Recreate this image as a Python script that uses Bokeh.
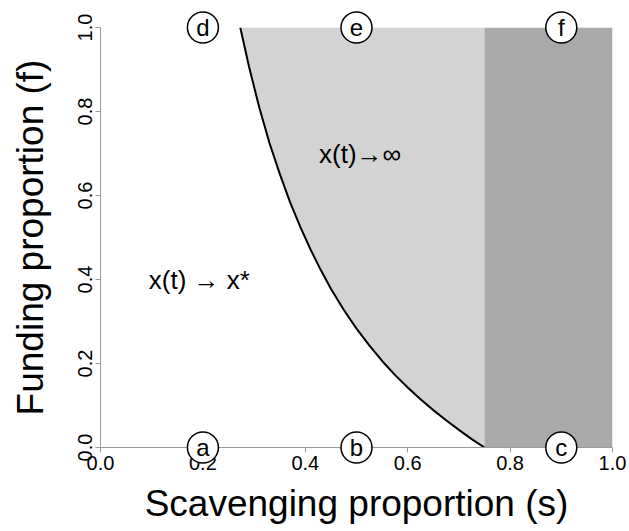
from bokeh.plotting import figure
from bokeh.models import Range1d, FixedTicker, NumeralTickFormatter
from bokeh.core.properties import value
from bokeh.embed import file_html
from bokeh.resources import INLINE

# Boundary curve: scavenging s vs funding f
curve_s = [0.273, 0.29, 0.31, 0.33, 0.35, 0.37, 0.39, 0.41, 0.43, 0.45, 0.475,
           0.50, 0.525, 0.55, 0.575, 0.60, 0.625, 0.65, 0.675, 0.70, 0.725, 0.75]
curve_f = [1.0, 0.907, 0.810, 0.725, 0.652, 0.585, 0.526, 0.472, 0.423, 0.378, 0.328,
           0.283, 0.243, 0.206, 0.173, 0.143, 0.115, 0.089, 0.065, 0.042, 0.020, 0.0]
boundary_s = 0.75  # start of dark region

ticks = [0.0, 0.2, 0.4, 0.6, 0.8, 1.0]

# circled panel markers
marker_letters = ["a", "b", "c", "d", "e", "f"]
marker_s = [0.2, 0.5, 0.9, 0.2, 0.5, 0.9]
marker_f = [0.0, 0.0, 0.0, 1.0, 1.0, 1.0]

# region annotations
region_texts = ["x(t) \u2192 x*", "x(t)\u2192\u221e"]
region_s = [0.193, 0.507]
region_f = [0.4, 0.7]

FONT = "Liberation Sans"

p = figure(width=629, height=531, output_backend="svg", toolbar_location=None,
           x_range=Range1d(0, 1), y_range=Range1d(0, 1),
           min_border_left=100, min_border_right=17, min_border_top=27, min_border_bottom=84)
p.outline_line_color = None
p.grid.visible = False
p.background_fill_color = "white"
p.border_fill_color = "white"

# light region between curve and boundary
p.patch(curve_s + [boundary_s], curve_f + [1.0], fill_color="#d3d3d3", line_color=None)
# dark region
p.quad(left=[boundary_s], right=[1.0], bottom=[0.0], top=[1.0], fill_color="#a9a9a9", line_color=None)
# curve
p.line(curve_s, curve_f, line_color="black", line_width=2)

p.text(x=region_s, y=region_f, text=region_texts, text_font=value(FONT),
       text_font_size="26px", text_align="center", text_baseline="middle", text_color="black")

for ax in (p.xaxis[0], p.yaxis[0]):
    ax.ticker = FixedTicker(ticks=ticks)
    ax.formatter = NumeralTickFormatter(format="0.0")
    ax.bounds = (0, 1)
    ax.axis_line_color = "#9a9a9a"
    ax.major_tick_line_color = "#9a9a9a"
    ax.minor_tick_line_color = None
    ax.major_tick_in = 0
    ax.major_tick_out = 5
    ax.major_label_text_font = FONT
    ax.major_label_text_font_size = "20px"
    ax.major_label_text_color = "black"
    ax.axis_label_text_font = FONT
    ax.axis_label_text_font_size = "37px"
    ax.axis_label_text_font_style = "normal"
    ax.axis_label_text_color = "black"

p.xaxis[0].axis_label = "Scavenging proportion (s)"
p.xaxis[0].major_label_standoff = 3
p.xaxis[0].axis_label_standoff = 10
p.yaxis[0].axis_label = "Funding proportion (f)"
p.yaxis[0].major_label_orientation = "parallel"
p.yaxis[0].major_label_standoff = 4
p.yaxis[0].axis_label_standoff = 24

# circled letters (overlay level so they are not clipped to the frame)
p.scatter(marker_s, marker_f, marker="circle", size=31, fill_color="white",
          line_color="black", line_width=1.5, level="overlay")
p.text(x=marker_s, y=marker_f, text=marker_letters, text_font=value(FONT),
       text_font_size="24px", text_align="center", text_baseline="middle",
       text_color="black", level="overlay")

open("out.html", "w").write(file_html(p, INLINE))
